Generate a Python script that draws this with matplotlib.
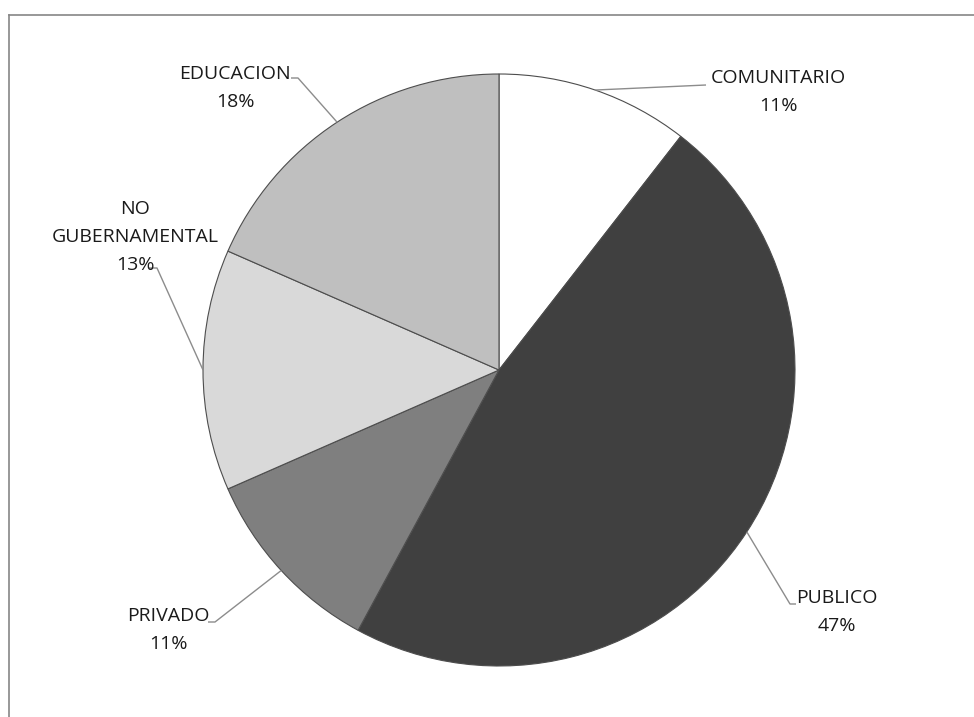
import numpy as np
import matplotlib
matplotlib.use("Agg")
import matplotlib.pyplot as plt

# Data: counts per sector (shown as rounded percentages)
categories = ["COMUNITARIO", "PUBLICO", "PRIVADO", "NO\nGUBERNAMENTAL", "EDUCACION"]
counts = [4, 18, 4, 5, 7]
colors = ["#ffffff", "#404040", "#7f7f7f", "#d9d9d9", "#bfbfbf"]

W, H = 974, 717
fig = plt.figure(figsize=(W / 100, H / 100), dpi=100)
ax = fig.add_axes([0, 0, 1, 1])

cx, cy, r = 499, H - 370, 296

wedges, _ = ax.pie(counts, colors=colors, startangle=90, counterclock=False,
                   center=(cx, cy), radius=r, frame=True,
                   wedgeprops=dict(edgecolor="#4d4d4d", linewidth=0.8))
ax.set_xlim(0, W)
ax.set_ylim(0, H)
ax.set_aspect("equal")
ax.axis("off")

# label layout: text centre (x, y top-down), elbow points (top-down)
layout = {
    "COMUNITARIO": dict(xy=(778, 92), path=[(706, 85)]),
    "PUBLICO": dict(xy=(837, 612), path=[(790, 604), (796, 604)]),
    "PRIVADO": dict(xy=(168, 630), path=[(215, 622), (208, 622)]),
    "NO\nGUBERNAMENTAL": dict(xy=(135, 237), path=[(157, 268), (149, 268)]),
    "EDUCACION": dict(xy=(235, 88), path=[(298, 78), (291, 78)]),
}

total = sum(counts)
for w, name, c in zip(wedges, categories, counts):
    mid = np.deg2rad((w.theta1 + w.theta2) / 2)
    ex, ey = cx + r * np.cos(mid), cy + r * np.sin(mid)
    lay = layout[name]
    xs = [ex] + [p[0] for p in lay["path"]]
    ys = [ey] + [H - p[1] for p in lay["path"]]
    ax.plot(xs, ys, color="#8c8c8c", lw=1.0, solid_capstyle="butt")
    pct = round(100 * c / total)
    ax.text(lay["xy"][0], H - lay["xy"][1], f"{name}\n{pct}%", ha="center", va="center",
            fontsize=14, family="Open Sans", color="#1a1a1a", linespacing=1.72)

# chart area border (top and left edges visible)
ax.plot([9, W], [H - 15, H - 15], color="#868686", lw=1.2, clip_on=False)
ax.plot([9, 9], [H - 15, 0], color="#868686", lw=1.2, clip_on=False)

fig.savefig("out.png", dpi=100)
